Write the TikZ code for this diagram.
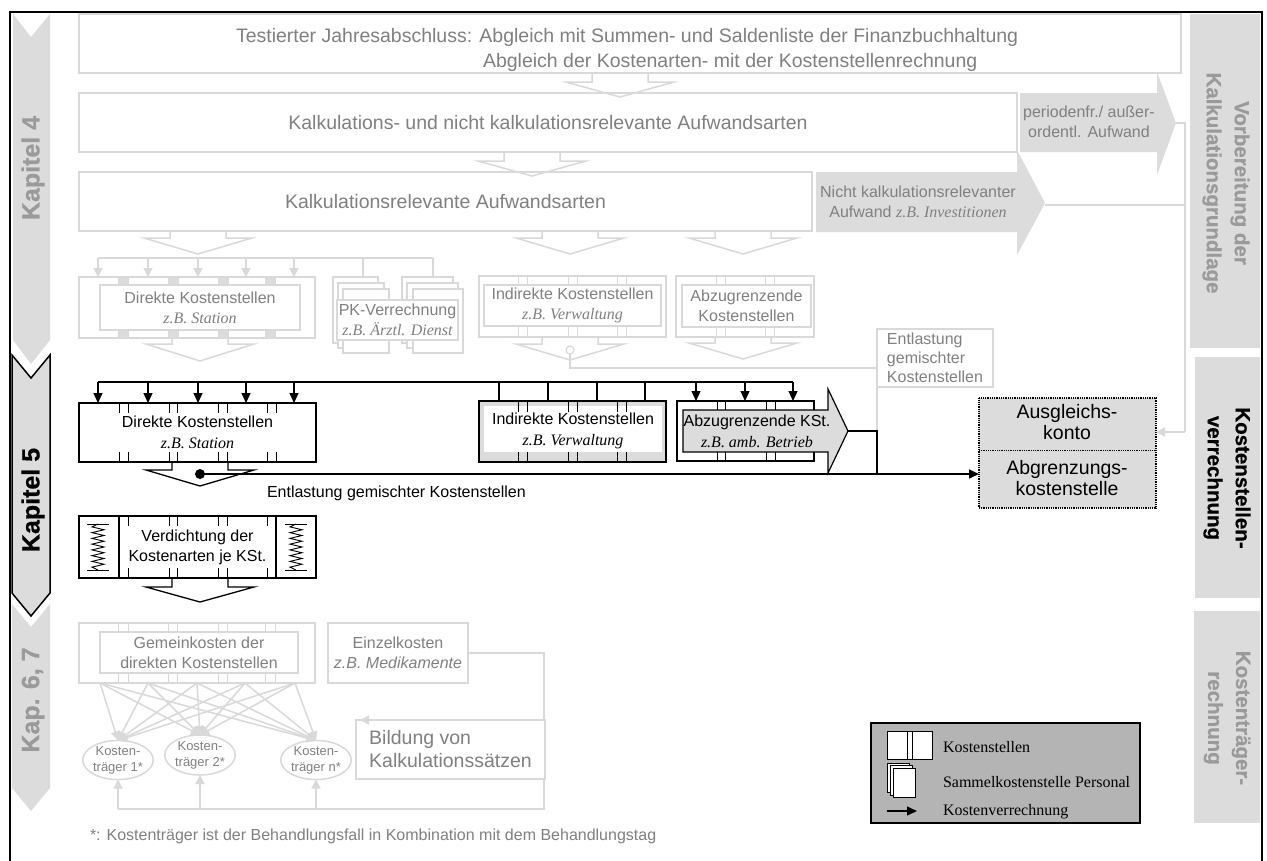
\documentclass[tikz,border=0pt]{standalone}
\usepackage{fontspec}
\setmainfont{Liberation Sans}
\newfontfamily\tmsf{Liberation Serif}
\newfontfamily\capf{Liberation Sans Bold}[FakeBold=0.6]
\usetikzlibrary{arrows.meta,shapes.geometric}
\definecolor{lgln}{HTML}{D9D9D9}
\definecolor{ltxt}{HTML}{808080}
\definecolor{gfil}{HTML}{DCDCDC}
\definecolor{legf}{HTML}{B4B4B4}
\definecolor{capt}{HTML}{9A9A9A}
\newcommand\fsz[2]{\fontsize{#1}{#2}\selectfont}
\newcommand\zb[1]{{\tmsf\itshape #1}}
\newcommand\bx[7]{\node[#2,anchor=north west,minimum width={(#5)-(#3)},minimum height={(#6)-(#4)}] (#1) at (#3,#4) {#7};}
\newcommand\harr[5]{\draw[#1] ({#2-28},#3) -- ({#2-28},#4) -- ({#2-54},#4) -- (#2,#5) -- ({#2+54},#4) -- ({#2+28},#4) -- ({#2+28},#3);}
\newcommand\spr[3]{%
 \draw[black,line width=1pt] ({#1-11},#2) -- ({#1+11},#2) ({#1-11},#3) -- ({#1+11},#3);
 \draw[black,line width=0.9pt] (#1,#2) \foreach \i in {1,...,15} { -- ({#1+ifthenelse(mod(\i,2)==0,6,-6)},{#2+(#3-#2)*\i/16}) } -- (#1,#3);}
\begin{document}
\begin{tikzpicture}[x=1pt,y=-1pt,
 every node/.style={inner sep=0pt,outer sep=0pt},
 lb/.style={draw=lgln,line width=1.5pt,fill=white,text=ltxt,align=center,font=\fsz{16}{20}},
 db/.style={draw=black,line width=1.2pt,fill=white,text=black,align=center,font=\fsz{16}{21}},
 lgl/.style={draw=lgln,line width=1.5pt},
 bkl/.style={draw=black,line width=1.3pt},
 larr/.style={lgl,-{Triangle[length=9pt,width=9pt]}},
 barr/.style={bkl,-{Triangle[length=10pt,width=9pt]}},
 caplab/.style={font=\capf\fsz{25}{28}},
 sidelab/.style={font=\capf\fsz{20.5}{28},align=center,rotate=-90},
 ]
\useasboundingbox (0,0) rectangle (1267,860);
\fill[white] (0,0) rectangle (1267,860);
\draw[line width=2.2pt] (10,12) rectangle (1262,864);

% ---------- chapter bars left
\fill[gfil] (13,14) -- (31,37) -- (50,14) -- (50,340) -- (31,364) -- (13,340) -- cycle;
\node[caplab,rotate=90,text=capt] (k4) at (33,168) {Kapitel 4};
\filldraw[fill=gfil,draw=black,line width=1.5pt] (12,355) -- (31,378) -- (50,355) -- (50,593) -- (31,616) -- (12,593) -- cycle;
\node[caplab,rotate=90,text=black] (k5) at (33,500) {Kapitel 5};
\fill[gfil] (12,604) -- (31,627) -- (50,604) -- (50,788) -- (31,811) -- (12,788) -- cycle;
\node[caplab,rotate=90,text=capt] (k67) at (33,700) {Kap. 6, 7};

% ---------- side bars right
\fill[gfil] (1190,14) rectangle (1260,348);
\node[sidelab,text=capt] (s1) at (1226,183) {Vorbereitung der\\Kalkulationsgrundlage};
\fill[gfil] (1195,357) rectangle (1260,598);
\node[sidelab,text=black] (s2) at (1227,478) {Kostenstellen-\\verrechnung};
\fill[gfil] (1194,611) rectangle (1260,823);
\node[sidelab,text=capt] (s3) at (1227,718) {Kostenträger-\\rechnung};

% ---------- top boxes
\bx{b1}{lb}{79}{14}{1181}{73}{}
\node[anchor=base west,text=ltxt,font=\fsz{19.5}{24}] (t1a) at (236,42) {Testierter Jahresabschluss: Abgleich mit Summen- und Saldenliste der Finanzbuchhaltung};
\node[anchor=base west,text=ltxt,font=\fsz{19.5}{24}] (t1b) at (483,67) {Abgleich der Kostenarten- mit der Kostenstellenrechnung};
\bx{b2}{lb,font=\fsz{19.5}{24}}{79}{93}{1017}{152}{Kalkulations- und nicht kalkulationsrelevante Aufwandsarten}
\harr{lgl}{620}{73}{82}{97}
\bx{b3}{lb,font=\fsz{19.5}{24}}{79}{172}{812}{231}{Kalkulationsrelevante Aufwandsarten}
\harr{lgl}{532}{152}{161}{176}

% grey side arrows
\fill[gfil] (1020,93) -- (1157,93) -- (1157,72) -- (1176,123) -- (1157,175) -- (1157,152) -- (1020,152) -- cycle;
\node[text=ltxt,align=center,font=\fsz{16}{20}] (pa) at (1089,122) {periodenfr./ außer-\\ordentl. Aufwand};
\fill[gfil] (816,172) -- (1017,172) -- (1017,150) -- (1045,203) -- (1017,255) -- (1017,232) -- (816,232) -- cycle;
\node[text=ltxt,align=center,font=\fsz{16}{20}] (na) at (918,202) {Nicht kalkulationsrelevanter\\Aufwand \zb{z.B. Investitionen}};
\coordinate (rc1) at (1185,123);
\coordinate (rc2) at (1185,432);
\draw[lgl] (1176,123) -- (rc1) -- (rc2);
\draw[lgl] (1045,205) -- (1185,205);

\harr{lgl}{198}{231}{238}{254}
\harr{lgl}{570}{231}{238}{254}
\harr{lgl}{743}{231}{238}{254}

% ---------- light cost centre row
\draw[lgl] (98,258) -- (433,258);
\foreach \x in {98,148,198,246,294} \draw[larr] (\x,258) -- (\x,277);
\draw[lgl] (363,258) -- (363,277);
\draw[lgl] (433,258) -- (433,277);

\bx{ldo}{lb}{79}{277}{315}{338}{}
\foreach \a in {118,168,218,265} \filldraw[fill=gfil,draw=lgln,line width=1pt] (\a,277) rectangle ({\a+10},338);
\bx{ld}{lb}{100}{285}{300}{330}{Direkte Kostenstellen\\\zb{z.B. Station}}

\draw[lgl,fill=white] (333,277) rectangle (378,343);
\draw[lgl,fill=white] (338,283) rectangle (384,348);
\draw[lgl,fill=white] (343,289) rectangle (389,353);
\draw[lgl,fill=white] (402,277) rectangle (453,343);
\draw[lgl,fill=white] (407,283) rectangle (458,348);
\draw[lgl,fill=white] (413,289) rectangle (463,353);
\bx{pk}{lb}{337}{300}{458}{340}{PK-Verrechnung\\\zb{z.B. Ärztl. Dienst}}

\bx{lio}{lb}{479}{276}{666}{337}{}
\foreach \a in {518,527,568,577,617,626} \draw[lgl,line width=1pt] (\a,276) -- (\a,337);
\bx{li}{lb}{484}{285}{661}{326}{Indirekte Kostenstellen\\\zb{z.B. Verwaltung}}

\bx{lao}{lb}{676}{276}{814}{337}{}
\foreach \a in {716,725,765,774} \draw[lgl,line width=1pt] (\a,276) -- (\a,337);
\bx{la}{lb}{682}{285}{811}{327}{Abzugrenzende\\Kostenstellen}

\harr{lgl}{200}{338}{344}{361}
\harr{lgl}{570}{337}{344}{360}
\harr{lgl}{743}{337}{343}{359}
\node[draw=lgln,line width=1.2pt,fill=white,circle,minimum size=8pt] (lc) at (570,350) {};
\draw[lgl] (lc.south) -- (570,368) -- (877,368);
\bx{ent}{lb,align=left,font=\fsz{16}{19}}{877}{329}{993}{387}{Entlastung\\gemischter\\Kostenstellen}
\draw[lgl] (ent.south west) -- (877,431);

% ---------- dark cost centre row
\draw[bkl] (98,382) -- (793,382);
\foreach \x in {98,148,198,246,294} \draw[barr] (\x,382) -- (\x,403);
\foreach \x in {499,548,597,645} \draw[bkl] (\x,382) -- (\x,401);
\foreach \x in {696,745,793} \draw[barr] (\x,382) -- (\x,401);

\bx{dd}{db}{79}{403}{316}{462}{Direkte Kostenstellen\\\zb{z.B. Station}}
\foreach \a in {119,128,169,177,218,227,267,276} {\draw[black,line width=1pt] (\a,403) -- (\a,413) (\a,452) -- (\a,462);}

\bx{di}{db,fill=gfil}{479}{401}{666}{462}{}
\fill[white] (484,406) rectangle (662,452);
\foreach \a in {518,527,568,577,617,626} {\draw[black,line width=1pt] (\a,401) -- (\a,412) (\a,452) -- (\a,462);}
\node[align=center,font=\fsz{16}{21}] (dit) at (573,431) {Indirekte Kostenstellen\\\zb{z.B. Verwaltung}};

\bx{dao}{db}{677}{401}{814}{461}{}
\foreach \a in {717,725,766,775} {\draw[black,line width=1pt] (\a,401) -- (\a,410) (\a,452) -- (\a,461);}
\filldraw[fill=gfil,draw=black,line width=1.2pt] (683,410) -- (828,410) -- (828,389) -- (848,431) -- (828,473) -- (828,452) -- (683,452) -- cycle;
\node[align=center,font=\fsz{16}{21}] (da) at (757,431) {Abzugrenzende KSt.\\\zb{z.B. amb. Betrieb}};
\coordinate (dtip) at (848,431);
\draw[bkl] (dtip) -- (877,431) -- (877,474);

\bx{aus}{draw=black,dash pattern=on 1pt off 0.8pt,line width=1.2pt,fill=gfil}{979}{398}{1156}{508}{}
\draw[black,dash pattern=on 1pt off 0.8pt,line width=1pt] (979,450) -- (1156,450);
\node[align=center,font=\fsz{19.5}{21}] (aus1) at (1067,422) {Ausgleichs-\\konto};
\node[align=center,font=\fsz{19.5}{21}] (aus2) at (1067,478) {Abgrenzungs-\\kostenstelle};
\draw[larr] (rc2) -- (aus.east |- rc2);

\harr{bkl}{200}{462}{470}{486}
\fill (200,474) circle[radius=5pt];
\coordinate (dot) at (200,474);
\draw[barr] (dot) -- (aus.west |- dot);
\node[anchor=base west,font=\fsz{16}{20}] (entl) at (267,497) {Entlastung gemischter Kostenstellen};

\bx{vd}{db,font=\fsz{16}{20}}{79}{516}{316}{578}{Verdichtung der\\Kostenarten je KSt.}
\draw[black,line width=1.2pt] (119,516) -- (119,578) (276,516) -- (276,578);
\foreach \a in {128,169,177,218,227,267} {\draw[black,line width=1pt] (\a,516) -- (\a,526) (\a,568) -- (\a,578);}
\spr{98}{524}{570}
\spr{296}{524}{570}
\harr{bkl}{200}{578}{587}{602}

% ---------- Kap 6,7
\bx{gko}{lb}{79}{623}{315}{683}{}
\foreach \a in {118,128,168,177,218,227,265,275} \draw[lgl,line width=1pt] (\a,623) -- (\a,683);
\bx{gk}{lb}{100}{632}{298}{673}{Gemeinkosten der\\direkten Kostenstellen}
\bx{ek}{lb}{328}{623}{468}{683}{Einzelkosten\\\textit{z.B. Medikamente}}
\bx{bil}{lb,font=\fsz{19.5}{23},align=left}{356}{720}{545}{779}{Bildung von\\Kalkulationssätzen}

\node[ellipse,draw=lgln,line width=1.5pt,fill=white,minimum width=70pt,minimum height=38pt,text=ltxt,align=center,font=\fsz{13}{16}] (e1) at (118,760) {Kosten-\\träger 1*};
\node[ellipse,draw=lgln,line width=1.5pt,fill=white,minimum width=70pt,minimum height=40pt,text=ltxt,align=center,font=\fsz{13}{16}] (e2) at (200,755) {Kosten-\\träger 2*};
\node[ellipse,draw=lgln,line width=1.5pt,fill=white,minimum width=70pt,minimum height=38pt,text=ltxt,align=center,font=\fsz{13}{16}] (en) at (316,760) {Kosten-\\träger n*};
\foreach \x in {100,148,197,245,295} {
  \draw[larr] (\x,683) -- (e1.north);
  \draw[larr] (\x,683) -- (e2.north);
  \draw[larr] (\x,683) -- (en.north);
}
\draw[larr] (ek.east) -- (544,653) -- (544,720) -- (360,720);
\draw[lgl] (bil.south -| 544,0) -- (544,809) -- (118,809);
\draw[larr] (118,809) -- (e1.south);
\draw[larr] (200,809) -- (e2.south);
\draw[larr] (316,809) -- (en.south);

\node[anchor=base west,text=ltxt,font=\fsz{16}{20}] (fn) at (90,840) {*: Kostenträger ist der Behandlungsfall in Kombination mit dem Behandlungstag};

% ---------- legend
\bx{leg}{draw=black,line width=1.5pt,fill=legf}{871}{723}{1140}{823}{}
\draw[black,line width=1pt,fill=white] (887,731) rectangle (932,759);
\draw[black,line width=1pt] (907,731) -- (907,759) (912,731) -- (912,759);
\draw[black,line width=0.8pt,fill=white] (887,763) rectangle (909,792);
\draw[black,line width=0.8pt,fill=white] (890,765) rectangle (912,795);
\draw[black,line width=1pt,fill=white] (893,768) rectangle (915,797);
\coordinate (la1) at (887,811);
\coordinate (la2) at (917,811);
\draw[barr] (la1) -- (la2);
\node[anchor=west,font=\tmsf\fsz{16}{20}] (l1) at (943,747) {Kostenstellen};
\node[anchor=west,font=\tmsf\fsz{16}{20}] (l2) at (943,782) {Sammelkostenstelle Personal};
\node[anchor=west,font=\tmsf\fsz{16}{20}] (l3) at (943,812) {Kostenverrechnung};
\end{tikzpicture}
\end{document}
